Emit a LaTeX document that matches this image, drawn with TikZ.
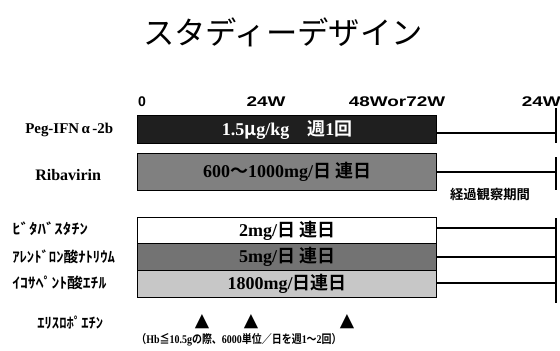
\documentclass[tikz,border=0pt]{standalone}
\usepackage{fontspec}
\setmainfont{Liberation Serif}
\newfontfamily\jp{Noto Sans CJK JP}[BoldFont={Noto Sans CJK JP Bold}]
\newfontfamily\hdr{Liberation Sans}
\newfontfamily\sym{DejaVu Sans}
\begin{document}
\begin{tikzpicture}[x=0.75pt,y=-0.75pt,
  bar/.style={draw=black, line width=1pt, minimum width=224.25pt, inner sep=0pt,
    anchor=north west, font=\bfseries\fontsize{13.5}{13.5}\selectfont},
  conn/.style={line width=0.8pt},
  hdrlab/.style={font=\hdr\bfseries\fontsize{10.5}{10.5}\selectfont, inner sep=0pt},
  druglab/.style={anchor=west, inner sep=0pt, font=\bfseries\fontsize{12}{12}\selectfont},
  kanalab/.style={anchor=west, inner sep=0pt, font=\jp\bfseries\fontsize{11}{11}\selectfont},
  tri/.style={inner sep=0pt, font=\sym\fontsize{14}{14}\selectfont}]
\path[use as bounding box] (0,0) rectangle (560,350);

% title
\node[inner sep=0pt, font=\jp\fontsize{23.5}{23.5}\selectfont] (title) at (283,32) {スタディーデザイン};

% header
\node[hdrlab] (h0) at (142,102) {0};
\node[hdrlab] (h24) at (266,102) {\scalebox{1.35}[1]{24W}};
\node[hdrlab] (h48) at (397,102) {\scalebox{1.35}[1]{48Wor72W}};
\node[hdrlab, anchor=east] (h24b) at (561,102) {\scalebox{1.35}[1]{24W}};

% bars
\node[bar, fill=black!88, text=white, minimum height=21pt] (b1) at (137,115)
  {1.5{\jp μ}g/kg\quad{\jp 週}1{\jp 回}};
\node[bar, fill=black!50, minimum height=27.75pt] (b2) at (137,153)
  {600{\jp 〜}1000mg/{\jp 日 連日}};
\node[bar, fill=white, minimum height=19.5pt] (b3) at (137,217)
  {2mg/{\jp 日 連日}};
\node[bar, fill=black!55, minimum height=20.25pt] (b4) at (137,243)
  {5mg/{\jp 日 連日}};
\node[bar, fill=black!22, minimum height=20.25pt] (b5) at (137,270)
  {1800mg/{\jp 日連日}};

% end markers
\coordinate (e1) at (556,133);
\coordinate (e2) at (556,172);
\coordinate (e3) at (556,228);
\coordinate (e4) at (556,257);
\coordinate (e5) at (556,283);
\coordinate (v1t) at (556,108);
\coordinate (v1b) at (556,143);
\coordinate (v2t) at (556,157);
\coordinate (v2b) at (556,190);
\coordinate (v3t) at (556,218);
\coordinate (v3b) at (556,303);

\draw[conn] (b1.east |- e1) -- (e1);
\draw[conn] (b2.east |- e2) -- (e2);
\draw[conn] (b3.east |- e3) -- (e3);
\draw[conn] (b4.east |- e4) -- (e4);
\draw[conn] (b5.east |- e5) -- (e5);
\draw[line width=1pt] (v1t) -- (v1b);
\draw[line width=1pt] (v2t) -- (v2b);
\draw[line width=1pt] (v3t) -- (v3b);

\node[inner sep=0pt, font=\jp\bfseries\fontsize{10}{10}\selectfont] (obs) at (490,194) {経過観察期間};

% left labels
\node[druglab, font=\bfseries\fontsize{11.2}{11.2}\selectfont] (l1) at (25,130) {Peg-IFN\,α\,-2b};
\node[druglab] (l2) at (35,175) {Ribavirin};
\node[kanalab] (l3) at (12,229) {\scalebox{1.15}[1]{ﾋﾞﾀﾊﾞｽﾀﾁﾝ}};
\node[kanalab] (l4) at (12,257) {ｱﾚﾝﾄﾞﾛﾝ酸ﾅﾄﾘｳﾑ};
\node[kanalab] (l5) at (12,283) {\scalebox{1.07}[1]{ｲｺｻﾍﾟﾝﾄ酸ｴﾁﾙ}};
\node[kanalab] (l6) at (37,323) {ｴﾘｽﾛﾎﾟｴﾁﾝ};

% triangles
\node[tri] (t1) at (202,322) {▲};
\node[tri] (t2) at (251,322) {▲};
\node[tri] (t3) at (347,322) {▲};

\node[inner sep=0pt, font=\bfseries\fontsize{8.8}{8.8}\selectfont] (note) at (239,340)
  {\scalebox{0.85}[1]{{\jp （}Hb{\jp ≦}10.5g{\jp の際、}6000{\jp 単位／日を週}1{\jp 〜}2{\jp 回）}}};
\end{tikzpicture}
\end{document}
